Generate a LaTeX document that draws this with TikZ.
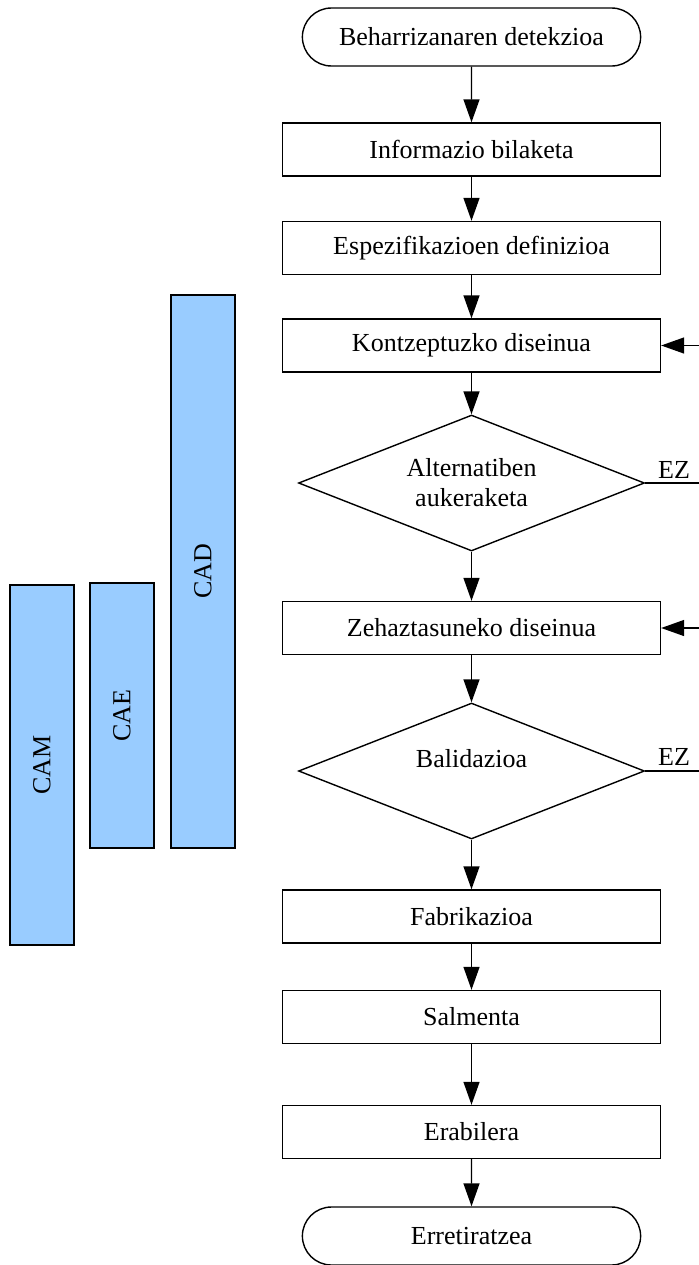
\documentclass[tikz,border=0pt]{standalone}
\usepackage{fontspec}
\setmainfont{Liberation Serif}
\usepackage{tikz}
\usetikzlibrary{arrows.meta,shapes,positioning}
\definecolor{cablue}{RGB}{153,204,255}
\tikzstyle{stepbox} = [rectangle, minimum width=7.56cm, minimum height=1.06cm, text centered, draw=black, line width=0.8pt]
\tikzstyle{terminal} = [rounded rectangle, minimum width=7cm, minimum height=1.16cm, draw=black, line width=0.8pt]
\tikzstyle{decision} = [diamond, aspect=2.56, minimum width=6.92cm, minimum height=2.72cm, inner sep=0pt, align=center, draw=black, line width=0.8pt]
\tikzstyle{toolbar} = [rectangle, rotate=90, minimum height=1.28cm, draw=black, fill=cablue, line width=0.8pt]
\tikzstyle{arrow} = [line width=0.8pt, -{Triangle[length=0.46cm,width=0.32cm]}]
\tikzstyle{flowline} = [line width=0.8pt]

\begin{document}
\begin{tikzpicture}[x=0.02cm, y=-0.02cm, font=\fontsize{14.8}{17}\selectfont]
\useasboundingbox (0,0) rectangle (699,1265);

% Flow nodes
\node (detect) [terminal] at (471.5,37) {Beharrizanaren detekzioa};
\node (info) [stepbox] at (471.5,149.5) {Informazio bilaketa};
\node (spec) [stepbox] at (471.5,248) {Espezifikazioen definizioa};
\node (concept) [stepbox] at (471.5,345.5) {Kontzeptuzko diseinua};
\node (choice) [decision] at (471.5,483) {Alternatiben\\aukeraketa};
\node (detail) [stepbox] at (471.5,628) {Zehaztasuneko diseinua};
\node (valid) [decision, label={[yshift=0.24cm]center:Balidazioa}] at (471.5,771) {};
\node (fab) [stepbox] at (471.5,916.5) {Fabrikazioa};
\node (sale) [stepbox] at (471.5,1017) {Salmenta};
\node (use) [stepbox] at (471.5,1132) {Erabilera};
\node (retire) [terminal] at (471.5,1236) {Erretiratzea};

% Tool bars
\node (cad) [toolbar, minimum width=11.06cm] at (203,571.5) {CAD};
\node (cae) [toolbar, minimum width=5.3cm] at (122,715.5) {CAE};
\node (cam) [toolbar, minimum width=7.2cm] at (42,765) {CAM};

% Arrows down the flow
\draw[arrow] (detect) -- (info);
\draw[arrow] (info) -- (spec);
\draw[arrow] (spec) -- (concept);
\draw[arrow] (concept) -- (choice);
\draw[arrow] (choice) -- (detail);
\draw[arrow] (detail) -- (valid);
\draw[arrow] (valid) -- (fab);
\draw[arrow] (fab) -- (sale);
\draw[arrow] (sale) -- (use);
\draw[arrow] (use) -- (retire);

% EZ branches, going back
\coordinate (out1) at (699,483);
\coordinate (out2) at (699,771);
\coordinate (back1) at (699,345.5);
\coordinate (back2) at (699,628);
\draw[flowline] (choice.east) -- (out1);
\draw[flowline] (valid.east) -- (out2);
\draw[arrow] (back1) -- (concept.east);
\draw[arrow] (back2) -- (detail.east);
\node (ez1) at (674,470) {EZ};
\node (ez2) at (674,757) {EZ};
\end{tikzpicture}
\end{document}
